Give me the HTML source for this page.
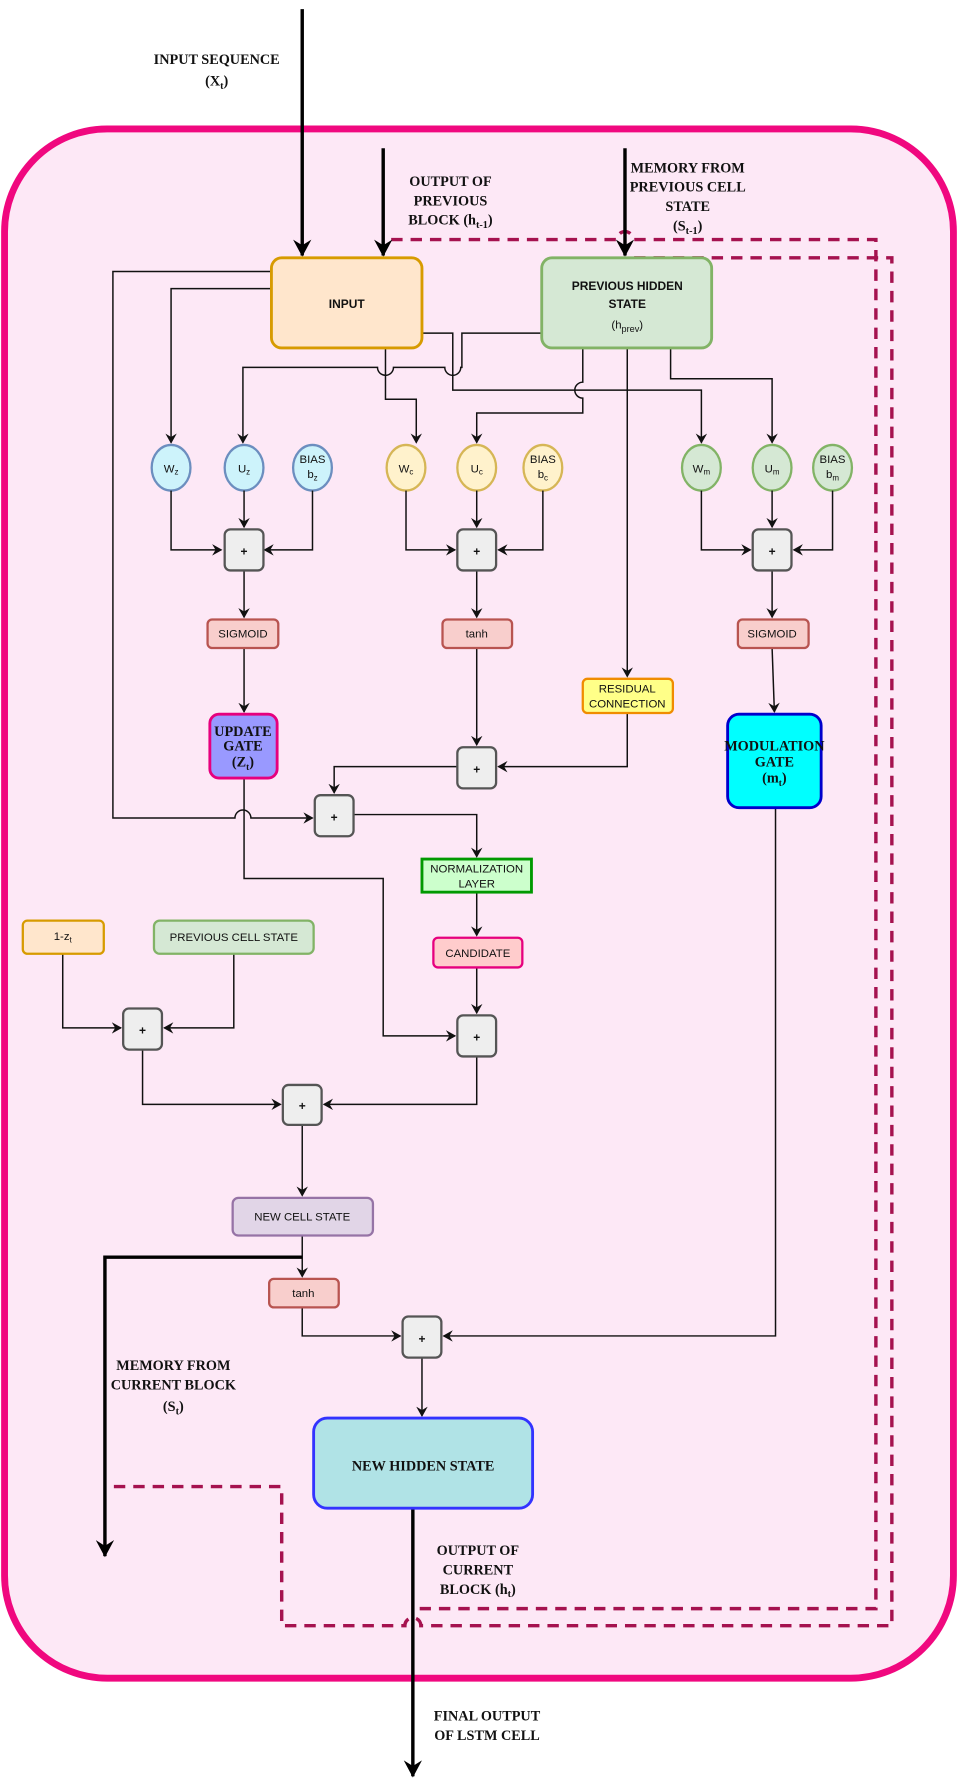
<!DOCTYPE html>
<html><head><meta charset="utf-8"><style>
html,body{margin:0;padding:0;background:#fff;}
svg{display:block;}
.s{font-family:"Liberation Serif",serif;font-size:12.5px;font-weight:bold;fill:#111;text-anchor:middle;}
.n{font-family:"Liberation Sans",sans-serif;font-size:10px;fill:#111;text-anchor:middle;}
.nb{font-family:"Liberation Sans",sans-serif;font-size:10.5px;font-weight:bold;fill:#111;text-anchor:middle;}
.l{fill:none;stroke:#111;stroke-width:1.3;}
.t{fill:none;stroke:#000;stroke-width:3;}
.d{fill:none;stroke:#a5124f;stroke-width:3;stroke-dasharray:10 7;}
.p{fill:#eeeeee;stroke:#555;stroke-width:2;}
</style></head><body>
<svg width="958" height="1790" viewBox="0 0 840 1569" preserveAspectRatio="none" xmlns="http://www.w3.org/2000/svg">
<defs>
<marker id="a" markerWidth="10" markerHeight="10" refX="8" refY="5" orient="auto" markerUnits="userSpaceOnUse"><path d="M0,0 L9,5 L0,10 L3,5 z" fill="#111"/></marker>
<marker id="A" markerWidth="16" markerHeight="16" refX="14" refY="8" orient="auto" markerUnits="userSpaceOnUse"><path d="M0,0 L15,8 L0,16 L5,8 z" fill="#000"/></marker>
</defs>
<rect x="4" y="113" width="832" height="1358" rx="90" fill="#fde8f6" stroke="#f0087f" stroke-width="6"/>

<path class="d" d="M343,210 L541,210 A7,7 0 0 1 555,210 L768,210 L768,1410 L368,1410"/>
<path class="d" d="M556,226 L782,226 L782,1425 L369,1425 A7,7 0 0 0 355,1425 L247,1425 L247,1303 L92,1303"/>

<path class="t" d="M265,8 L265,224" marker-end="url(#A)"/>
<path class="t" d="M336,130 L336,224" marker-end="url(#A)"/>
<path class="t" d="M548,130 L548,224" marker-end="url(#A)"/>
<text class="s" x="190" y="56">INPUT SEQUENCE</text>
<text class="s" x="190" y="75">(X<tspan font-size="9" dy="3">t</tspan><tspan dy="-3">)</tspan></text>
<text class="s" x="395" y="163">OUTPUT OF</text>
<text class="s" x="395" y="180">PREVIOUS</text>
<text class="s" x="395" y="197">BLOCK (h<tspan font-size="9" dy="3">t-1</tspan><tspan dy="-3">)</tspan></text>
<text class="s" x="603" y="151">MEMORY FROM</text>
<text class="s" x="603" y="168">PREVIOUS CELL</text>
<text class="s" x="603" y="185">STATE</text>
<text class="s" x="603" y="202">(S<tspan font-size="9" dy="3">t-1</tspan><tspan dy="-3">)</tspan></text>

<path class="l" d="M238,238 L99,238 L99,717 L206,717 A7,7 0 0 1 220,717 L274,717" marker-end="url(#a)"/>
<path class="l" d="M238,253 L150,253 L150,388" marker-end="url(#a)"/>
<path class="l" d="M338,305 L338,350 L365,350 L365,388" marker-end="url(#a)"/>
<path class="l" d="M475,292 L405,292 L405,322 L404,322 A7,7 0 0 1 390,322 L345,322 A7,7 0 0 1 331,322 L213,322 L213,388" marker-end="url(#a)"/>
<path class="l" d="M370,292 L397,292 L397,342 L615,342 L615,388" marker-end="url(#a)"/>
<path class="l" d="M511,305 L511,335 A7,7 0 0 0 511,349 L511,362 L418,362 L418,388" marker-end="url(#a)"/>
<path class="l" d="M588,305 L588,332 L677,332 L677,388" marker-end="url(#a)"/>
<path class="l" d="M550,305 L550,593" marker-end="url(#a)"/>

<rect x="238" y="226" width="132" height="79" rx="9" fill="#ffe6cc" stroke="#d79b00" stroke-width="2.5"/>
<text class="nb" x="304" y="270" font-size="11">INPUT</text>
<rect x="475" y="226" width="149" height="79" rx="9" fill="#d5e8d4" stroke="#82b366" stroke-width="2.5"/>
<text class="nb" x="550" y="254">PREVIOUS HIDDEN</text>
<text class="nb" x="550" y="270">STATE</text>
<text class="n" x="550" y="288">(h<tspan font-size="8" dy="3">prev</tspan><tspan dy="-3">)</tspan></text>

<g stroke-width="2">
<ellipse cx="150" cy="410" rx="17" ry="20" fill="#cdf3fb" stroke="#6c8ebf"/>
<ellipse cx="214" cy="410" rx="17" ry="20" fill="#cdf3fb" stroke="#6c8ebf"/>
<ellipse cx="274" cy="410" rx="17" ry="20" fill="#cdf3fb" stroke="#6c8ebf"/>
<ellipse cx="356" cy="410" rx="17" ry="20" fill="#fff2cc" stroke="#d6b656"/>
<ellipse cx="418" cy="410" rx="17" ry="20" fill="#fff2cc" stroke="#d6b656"/>
<ellipse cx="476" cy="410" rx="17" ry="20" fill="#fff2cc" stroke="#d6b656"/>
<ellipse cx="615" cy="410" rx="17" ry="20" fill="#d5e8d4" stroke="#82b366"/>
<ellipse cx="677" cy="410" rx="17" ry="20" fill="#d5e8d4" stroke="#82b366"/>
<ellipse cx="730" cy="410" rx="17" ry="20" fill="#d5e8d4" stroke="#82b366"/>
</g>
<text class="n" x="150" y="414">W<tspan font-size="7" dy="2">z</tspan></text>
<text class="n" x="214" y="414">U<tspan font-size="7" dy="2">z</tspan></text>
<text class="n" x="274" y="406">BIAS</text><text class="n" x="274" y="419">b<tspan font-size="7" dy="2">z</tspan></text>
<text class="n" x="356" y="414">W<tspan font-size="7" dy="2">c</tspan></text>
<text class="n" x="418" y="414">U<tspan font-size="7" dy="2">c</tspan></text>
<text class="n" x="476" y="406">BIAS</text><text class="n" x="476" y="419">b<tspan font-size="7" dy="2">c</tspan></text>
<text class="n" x="615" y="414">W<tspan font-size="7" dy="2">m</tspan></text>
<text class="n" x="677" y="414">U<tspan font-size="7" dy="2">m</tspan></text>
<text class="n" x="730" y="406">BIAS</text><text class="n" x="730" y="419">b<tspan font-size="7" dy="2">m</tspan></text>

<path class="l" d="M150,430 L150,482 L194,482" marker-end="url(#a)"/>
<path class="l" d="M214,430 L214,462" marker-end="url(#a)"/>
<path class="l" d="M274,430 L274,482 L232,482" marker-end="url(#a)"/>
<path class="l" d="M356,430 L356,482 L399,482" marker-end="url(#a)"/>
<path class="l" d="M418,430 L418,462" marker-end="url(#a)"/>
<path class="l" d="M476,430 L476,482 L437,482" marker-end="url(#a)"/>
<path class="l" d="M615,430 L615,482 L658,482" marker-end="url(#a)"/>
<path class="l" d="M677,430 L677,462" marker-end="url(#a)"/>
<path class="l" d="M730,430 L730,482 L696,482" marker-end="url(#a)"/>
<path class="l" d="M214,500 L214,541" marker-end="url(#a)"/>
<path class="l" d="M418,500 L418,541" marker-end="url(#a)"/>
<path class="l" d="M677,500 L677,541" marker-end="url(#a)"/>
<path class="l" d="M214,568 L214,624" marker-end="url(#a)"/>
<path class="l" d="M418,568 L418,653" marker-end="url(#a)"/>
<path class="l" d="M677,568 L679,624" marker-end="url(#a)"/>
<path class="l" d="M550,625 L550,672 L437,672" marker-end="url(#a)"/>
<path class="l" d="M401,672 L293,672 L293,695" marker-end="url(#a)"/>
<path class="l" d="M310,714 L418,714 L418,751" marker-end="url(#a)"/>
<path class="l" d="M214,682 L214,770 L336,770 L336,908 L399,908" marker-end="url(#a)"/>
<path class="l" d="M418,782 L418,820" marker-end="url(#a)"/>
<path class="l" d="M418,848 L418,888" marker-end="url(#a)"/>
<path class="l" d="M680,708 L680,1171 L389,1171" marker-end="url(#a)"/>
<path class="l" d="M55,836 L55,901 L106,901" marker-end="url(#a)"/>
<path class="l" d="M205,836 L205,901 L144,901" marker-end="url(#a)"/>
<path class="l" d="M125,918 L125,968 L246,968" marker-end="url(#a)"/>
<path class="l" d="M418,926 L418,968 L284,968" marker-end="url(#a)"/>
<path class="l" d="M265,986 L265,1048" marker-end="url(#a)"/>
<path class="l" d="M265,1083 L265,1119" marker-end="url(#a)"/>
<path class="t" d="M265,1102 L92,1102 L92,1364" marker-end="url(#A)"/>
<path class="l" d="M265,1146 L265,1171 L351,1171" marker-end="url(#a)"/>
<path class="l" d="M370,1190 L370,1241" marker-end="url(#a)"/>
<path class="t" d="M362,1322 L362,1557" marker-end="url(#A)"/>

<g>
<rect class="p" x="197" y="464" width="34" height="36" rx="5"/>
<rect class="p" x="401" y="464" width="34" height="36" rx="5"/>
<rect class="p" x="660" y="464" width="34" height="36" rx="5"/>
<rect class="p" x="401" y="655" width="34" height="36" rx="5"/>
<rect class="p" x="276" y="697" width="34" height="36" rx="5"/>
<rect class="p" x="108" y="884" width="34" height="36" rx="5"/>
<rect class="p" x="401" y="890" width="34" height="36" rx="5"/>
<rect class="p" x="248" y="951" width="34" height="35" rx="5"/>
<rect class="p" x="353" y="1154" width="34" height="36" rx="5"/>
</g>
<g class="nb" font-size="15">
<text x="214" y="487">+</text><text x="418" y="487">+</text><text x="677" y="487">+</text>
<text x="418" y="678">+</text><text x="293" y="720">+</text><text x="125" y="907">+</text>
<text x="418" y="913">+</text><text x="265" y="973">+</text><text x="370" y="1177">+</text>
</g>

<rect x="182" y="543" width="62" height="25" rx="4" fill="#f8cecc" stroke="#b85450" stroke-width="2"/>
<text class="n" x="213" y="559">SIGMOID</text>
<rect x="388" y="543" width="61" height="25" rx="4" fill="#f8cecc" stroke="#b85450" stroke-width="2"/>
<text class="n" x="418" y="559">tanh</text>
<rect x="647" y="543" width="62" height="25" rx="4" fill="#f8cecc" stroke="#b85450" stroke-width="2"/>
<text class="n" x="677" y="559">SIGMOID</text>
<rect x="511" y="595" width="79" height="30" rx="4" fill="#ffff88" stroke="#f08c00" stroke-width="2"/>
<text class="n" x="550" y="607">RESIDUAL</text><text class="n" x="550" y="620">CONNECTION</text>
<rect x="184" y="626" width="59" height="56" rx="8" fill="#9999ff" stroke="#e6007e" stroke-width="2.5"/>
<text class="s" x="213" y="645" font-size="10">UPDATE</text>
<text class="s" x="213" y="658" font-size="10">GATE</text>
<text class="s" x="213" y="672" font-size="10">(Z<tspan font-size="8" dy="3">t</tspan><tspan dy="-3">)</tspan></text>
<rect x="638" y="626" width="82" height="82" rx="10" fill="#00ffff" stroke="#0000cc" stroke-width="2.5"/>
<text class="s" x="679" y="658" font-size="9.5">MODULATION</text>
<text class="s" x="679" y="672" font-size="10">GATE</text>
<text class="s" x="679" y="686" font-size="10">(m<tspan font-size="8" dy="3">t</tspan><tspan dy="-3">)</tspan></text>
<rect x="370" y="753" width="96" height="29" fill="#ccffcc" stroke="#009900" stroke-width="2.5"/>
<text class="n" x="418" y="765">NORMALIZATION</text><text class="n" x="418" y="778">LAYER</text>
<rect x="380" y="822" width="78" height="26" rx="4" fill="#ffcccc" stroke="#e6007e" stroke-width="2"/>
<text class="n" x="419" y="839">CANDIDATE</text>
<rect x="20" y="807" width="71" height="29" rx="4" fill="#ffe6cc" stroke="#d79b00" stroke-width="2"/>
<text class="n" x="55" y="824">1-z<tspan font-size="7" dy="2">t</tspan></text>
<rect x="135" y="807" width="140" height="29" rx="5" fill="#d5e8d4" stroke="#82b366" stroke-width="2"/>
<text class="n" x="205" y="825">PREVIOUS CELL STATE</text>
<rect x="204" y="1050" width="123" height="33" rx="5" fill="#e1d5e7" stroke="#9673a6" stroke-width="2"/>
<text class="n" x="265" y="1070">NEW CELL STATE</text>
<rect x="236" y="1121" width="61" height="25" rx="4" fill="#f8cecc" stroke="#b85450" stroke-width="2"/>
<text class="n" x="266" y="1137" font-size="9">tanh</text>
<rect x="275" y="1243" width="192" height="79" rx="12" fill="#b0e3e6" stroke="#3333ff" stroke-width="2.5"/>
<text class="s" x="371" y="1289" font-size="16">NEW HIDDEN STATE</text>

<text class="s" x="152" y="1201">MEMORY FROM</text>
<text class="s" x="152" y="1218">CURRENT BLOCK</text>
<text class="s" x="152" y="1237">(S<tspan font-size="9" dy="3">t</tspan><tspan dy="-3">)</tspan></text>
<text class="s" x="419" y="1363">OUTPUT OF</text>
<text class="s" x="419" y="1380">CURRENT</text>
<text class="s" x="419" y="1397">BLOCK (h<tspan font-size="9" dy="3">t</tspan><tspan dy="-3">)</tspan></text>
<text class="s" x="427" y="1508">FINAL OUTPUT</text>
<text class="s" x="427" y="1525">OF LSTM CELL</text>
</svg>
</body></html>
